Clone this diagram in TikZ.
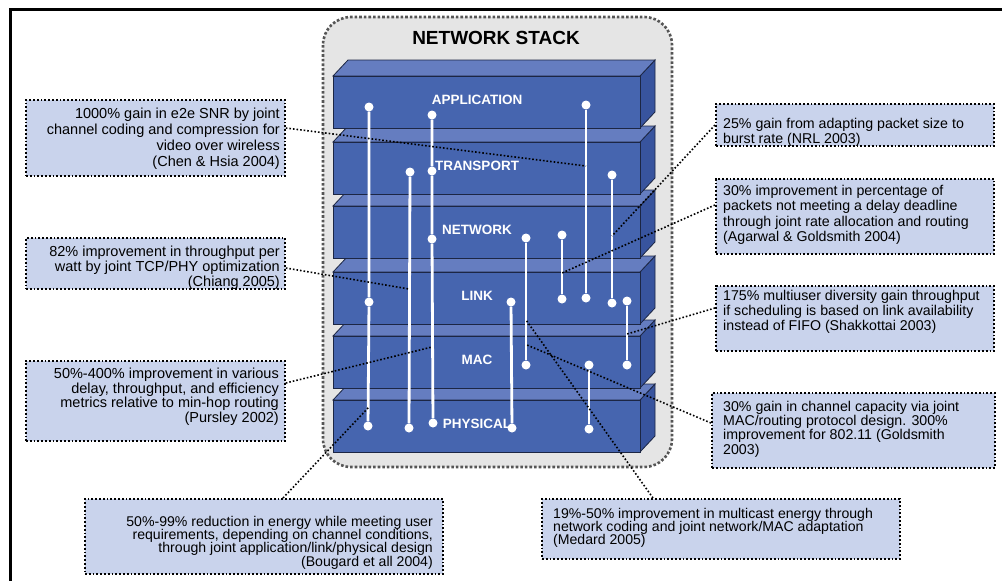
\documentclass[tikz,border=0pt]{standalone}
\usepackage{fontspec}
\setmainfont{Liberation Sans}
\usetikzlibrary{calc}
\definecolor{stackgray}{RGB}{229,229,229}
\definecolor{stackrim}{RGB}{85,85,85}
\definecolor{slabfront}{RGB}{70,101,175}
\definecolor{slabtop}{RGB}{101,125,192}
\definecolor{slabside}{RGB}{56,84,158}
\definecolor{slabedge}{RGB}{28,38,68}
\definecolor{notefill}{RGB}{201,211,236}
\newcommand\notefont[2]{\fontsize{#1}{#2}\selectfont\lineskiplimit=-20pt\lineskip=0pt}
\def\layer(#1)#2{%
	\filldraw[draw=slabedge, fill=slabside, line width=0.8pt] (640,#1) -- (655,#1-16) -- (655,#1+36) -- (640,#1+52) -- cycle;
	\filldraw[draw=slabedge, fill=slabtop, line width=0.8pt] (333,#1) -- (348,#1-16) -- (655,#1-16) -- (640,#1) -- cycle;
	\filldraw[draw=slabedge, fill=slabfront, line width=0.8pt] (333,#1) rectangle (640,#1+52);
	\node[layertext] (#2) at (477,#1+24) {#2};}
\tikzset{
	layertext/.style={text=white, font=\bfseries\fontsize{13.5}{16}\selectfont, inner sep=0pt},
	wireend/.style={circle, fill=white, inner sep=0pt, minimum size=9pt},
	wire/.style={white, line width=2.8pt},
	notebox/.style={draw=black, fill=notefill, dotted, line width=1.8pt, inner sep=0pt, anchor=north west},
	notetext/.style={inner sep=0pt},
	hint/.style={black, dotted, line width=1.6pt}
}

\begin{document}
\begin{tikzpicture}[x=1pt, y=-1pt]
		%%%%% START %%%%%
		\useasboundingbox (0,0) rectangle (1002,581);
		
		\draw[stackrim, fill=stackgray, dotted, line width=2.6pt, rounded corners=28pt] (323,17) rectangle (672,467);
		\node[font=\bfseries\fontsize{19}{22}\selectfont] (title) at (496,38) {NETWORK STACK};
		
		\layer(400){PHYSICAL}
		\layer(336){MAC}
		\layer(272){LINK}
		\layer(206){NETWORK}
		\layer(142){TRANSPORT}
		\layer(76){APPLICATION}
		
		\node[wireend] (a1) at (369,107) {};
		\node[wireend] (a2) at (369,302) {};
		\node[wireend] (a3) at (368,426) {};
		\node[wireend] (b1) at (432,115) {};
		\node[wireend] (b2) at (432,171) {};
		\node[wireend] (b3) at (432,239) {};
		\node[wireend] (b4) at (433,423) {};
		\node[wireend] (c1) at (410,172) {};
		\node[wireend] (c2) at (409,428) {};
		\node[wireend] (d1) at (586,105) {};
		\node[wireend] (d2) at (586,298) {};
		\node[wireend] (e1) at (612,175) {};
		\node[wireend] (e2) at (612,303) {};
		\node[wireend] (f1) at (526,238) {};
		\node[wireend] (f2) at (526,365) {};
		\node[wireend] (g1) at (562,235) {};
		\node[wireend] (g2) at (562,299) {};
		\node[wireend] (h1) at (511,302) {};
		\node[wireend] (h2) at (512,428) {};
		\node[wireend] (i1) at (627,301) {};
		\node[wireend] (i2) at (627,365) {};
		\node[wireend] (j1) at (589,365) {};
		\node[wireend] (j2) at (589,429) {};
		
		\draw[wire] (a1) -- (a2) -- (a3);
		\draw[wire] (b1) -- (b2) -- (b3) -- (b4);
		\draw[wire] (c1) -- (c2);
		\draw[wire] (d1) -- (d2);
		\draw[wire] (e1) -- (e2);
		\draw[wire] (f1) -- (f2);
		\draw[wire] (g1) -- (g2);
		\draw[wire] (h1) -- (h2);
		\draw[wire] (i1) -- (i2);
		\draw[wire] (j1) -- (j2);
		
		% left notes
		\node[notebox, minimum width=259pt, minimum height=76pt] (chen) at (25,99) {};
		\node[notetext, font={\notefont{14.5}{16}}, align=right, anchor=north east] (chen-txt) at (280,108) {1000\% gain in e2e SNR by joint\\channel coding and compression for\\video over wireless\\(Chen \& Hsia 2004)};
		\node[notebox, minimum width=259pt, minimum height=51pt] (chiang) at (25,237) {};
		\node[notetext, font={\notefont{14.5}{15}}, align=right, anchor=north east] (chiang-txt) at (280,246) {82\% improvement in throughput per\\watt by joint TCP/PHY optimization\\(Chiang 2005)};
		\node[notebox, minimum width=259pt, minimum height=80pt] (pursley) at (25,360) {};
		\node[notetext, font={\notefont{14.5}{14.5}}, align=right, anchor=north east] (pursley-txt) at (279,368) {50\%-400\% improvement in various\\delay, throughput, and efficiency\\metrics relative to min-hop routing\\(Pursley 2002)};
		
		% bottom notes
		\node[notebox, minimum width=358pt, minimum height=75pt] (bougard) at (84,498) {};
		\node[notetext, font={\notefont{14.1}{13.2}}, align=right, anchor=north east] (bougard-txt) at (433,516) {50\%-99\% reduction in energy while meeting user\\requirements, depending on channel conditions,\\through joint application/link/physical design\\(Bougard et all 2004)};
		\node[notebox, minimum width=358pt, minimum height=60pt] (medard) at (541,498) {};
		\node[notetext, font={\notefont{14.1}{13.2}}, align=left, anchor=north west] (medard-txt) at (553,508) {19\%-50\% improvement in multicast energy through\\network coding and joint network/MAC adaptation\\(Medard 2005)};
		
		% right notes
		\node[notebox, minimum width=278pt, minimum height=42pt] (nrl) at (715,103) {};
		\node[notetext, font={\notefont{14.2}{15}}, align=left, anchor=north west] (nrl-txt) at (723,118) {25\% gain from adapting packet size to\\burst rate (NRL 2003)};
		\node[notebox, minimum width=278pt, minimum height=75pt] (agarwal) at (715,178) {};
		\node[notetext, font={\notefont{14.2}{15.3}}, align=left, anchor=north west] (agarwal-txt) at (723,185) {30\% improvement in percentage of\\packets not meeting a delay deadline\\through joint rate allocation and routing\\(Agarwal \& Goldsmith 2004)};
		\node[notebox, minimum width=278pt, minimum height=65pt] (shakkottai) at (715,285) {};
		\node[notetext, font={\notefont{14.2}{15}}, align=left, anchor=north west] (shakkottai-txt) at (723,290) {175\% multiuser diversity gain throughput\\if scheduling is based on link availability\\instead of FIFO (Shakkottai 2003)};
		\node[notebox, minimum width=283pt, minimum height=75pt] (goldsmith) at (711,392) {};
		\node[notetext, font={\notefont{14.2}{14.2}}, align=left, anchor=north west] (goldsmith-txt) at (723,401) {30\% gain in channel capacity via joint\\MAC/routing protocol design. 300\%\\improvement for 802.11 (Goldsmith\\2003)};
		
		% pointers into the stack
		\coordinate (chen-end) at (586,166);
		\coordinate (chiang-end) at (409,289);
		\coordinate (pursley-end) at (432,347);
		\coordinate (bougard-end) at (369,407);
		\coordinate (medard-end) at (526,320);
		\coordinate (nrl-end) at (612,236);
		\coordinate (agarwal-end) at (562,273);
		\coordinate (shakkottai-end) at (627,334);
		\coordinate (goldsmith-end) at (527,345);
		
		\draw[hint] ($(chen.north east)+(0,29)$) -- (chen-end);
		\draw[hint] ($(chiang.north east)+(0,31)$) -- (chiang-end);
		\draw[hint] ($(pursley.north east)+(0,23)$) -- (pursley-end);
		\draw[hint] ($(bougard.north west)+(199,0)$) -- (bougard-end);
		\draw[hint] ($(medard.north west)+(112,0)$) -- (medard-end);
		\draw[hint] ($(nrl.north west)+(0,22)$) -- (nrl-end);
		\draw[hint] ($(agarwal.north west)+(0,27)$) -- (agarwal-end);
		\draw[hint] ($(shakkottai.north west)+(0,23)$) -- (shakkottai-end);
		\draw[hint] ($(goldsmith.north west)+(0,31)$) -- (goldsmith-end);
		
		\draw[line width=3pt] (10.5,581) -- (10.5,9.5) -- (1002,9.5);
		%%%%% END %%%%%
\end{tikzpicture}
\end{document}
